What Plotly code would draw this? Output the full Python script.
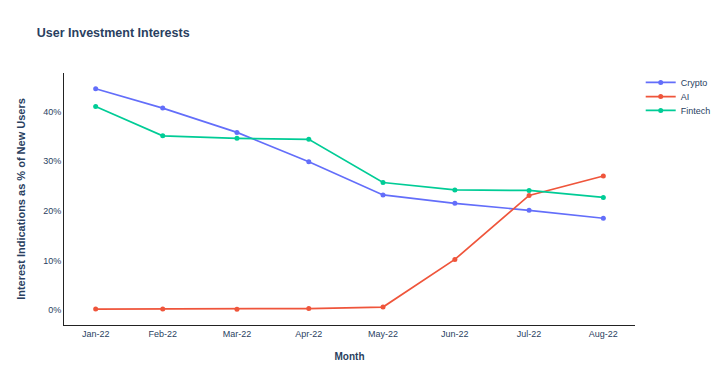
import plotly.graph_objects as go

months = ["2022-01-31", "2022-02-28", "2022-03-31", "2022-04-30",
          "2022-05-31", "2022-06-30", "2022-07-31", "2022-08-31"]
month_labels = ["Jan-22", "Feb-22", "Mar-22", "Apr-22", "May-22", "Jun-22", "Jul-22", "Aug-22"]

crypto = [44.6, 40.7, 35.8, 29.9, 23.2, 21.5, 20.1, 18.5]
ai = [0.2, 0.2, 0.15, 0.3, 0.6, 10.2, 23.1, 27.0]
fintech = [41.0, 35.1, 34.6, 34.4, 25.7, 24.2, 24.1, 22.7]

series = [("Crypto", crypto, "#636efa"), ("AI", ai, "#EF553B"), ("Fintech", fintech, "#00cc96")]
legend_ids = ["legend", "legend2", "legend3"]
legend_ys = [1.02, 0.964, 0.909]

fig = go.Figure()
for (name, vals, color), lid in zip(series, legend_ids):
    fig.add_trace(go.Scatter(x=months, y=vals, name=name, mode="lines+markers",
                             line=dict(color=color, width=1.7), marker=dict(size=5, color=color),
                             legend=lid, showlegend=True))

fig.update_layout(
    template="plotly_white",
    width=720, height=383,
    showlegend=True,
    margin=dict(l=50, r=89, t=65, b=66),
    font=dict(family="Arial", size=9, color="#2a3f5f"),
    title=dict(text="<b>User Investment Interests</b>", x=0.04, xanchor="left",
               y=0.937, yanchor="middle", font=dict(size=12.5, color="#2a3f5f")),
    plot_bgcolor="white",
)
for lid, ly in zip(legend_ids, legend_ys):
    fig.update_layout({lid: dict(x=1.01, y=ly, xanchor="left", yanchor="top",
                                 font=dict(size=9), bgcolor="rgba(0,0,0,0)")})

fig.update_xaxes(
    title=dict(text="<b>Month</b>", font=dict(size=10)),
    tickvals=months, ticktext=month_labels,
    showgrid=False, showline=True, linecolor="#222", linewidth=1, zeroline=False,
)
fig.update_yaxes(
    title=dict(text="<b>Interest Indications as % of New Users</b>", font=dict(size=11)),
    ticksuffix="%", dtick=10,
    showgrid=False, showline=True, linecolor="#222", linewidth=1, zeroline=False,
)

fig.write_html("out.html")
